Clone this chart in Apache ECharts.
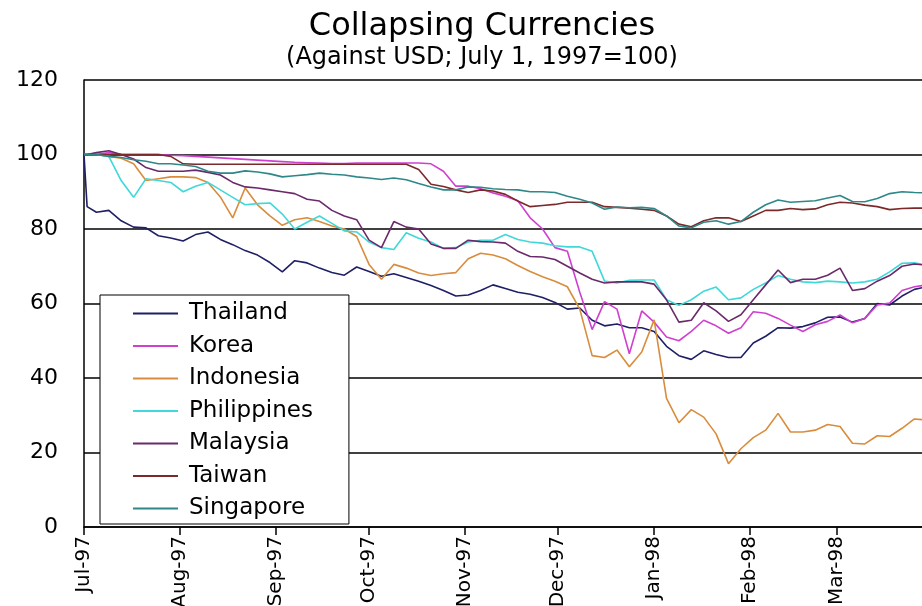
<!DOCTYPE html>
<html>
<head>
<meta charset="utf-8">
<script src="https://cdn.jsdelivr.net/npm/echarts@6/dist/echarts.min.js"></script>
<style>html,body{margin:0;padding:0;background:#fff;}#c{width:922px;height:606px;}</style>
</head>
<body>
<div id="c"></div>
<script>
const titleText = 'Collapsing Currencies';
const subtitleText = '(Against USD; July 1, 1997=100)';
const seriesNames = ['Thailand','Korea','Indonesia','Philippines','Malaysia','Taiwan','Singapore'];
const yTicks = [0,20,40,60,80,100,120];
const monthNames = ['Jan','Feb','Mar','Apr','May','Jun','Jul','Aug','Sep','Oct','Nov','Dec'];

const dates = ['1997-07-01','1997-07-02','1997-07-05','1997-07-09','1997-07-13','1997-07-17','1997-07-21','1997-07-25','1997-07-29',
'1997-08-02','1997-08-06','1997-08-10','1997-08-14','1997-08-18','1997-08-22','1997-08-26','1997-08-30',
'1997-09-03','1997-09-07','1997-09-11','1997-09-15','1997-09-19','1997-09-23','1997-09-27',
'1997-10-01','1997-10-05','1997-10-09','1997-10-13','1997-10-17','1997-10-21','1997-10-25','1997-10-29',
'1997-11-02','1997-11-06','1997-11-10','1997-11-14','1997-11-18','1997-11-22','1997-11-26','1997-11-30',
'1997-12-04','1997-12-08','1997-12-12','1997-12-16','1997-12-20','1997-12-24','1997-12-28',
'1998-01-01','1998-01-05','1998-01-09','1998-01-13','1998-01-17','1998-01-21','1998-01-25','1998-01-29',
'1998-02-02','1998-02-06','1998-02-10','1998-02-14','1998-02-18','1998-02-22','1998-02-26',
'1998-03-02','1998-03-06','1998-03-10','1998-03-14','1998-03-18','1998-03-22','1998-03-26','1998-03-30'];

const thailand = [100,86,84.5,85,82.2,80.5,80.3,78.2,77.6,
76.8,78.5,79.2,77.2,75.8,74.2,73,71,
68.5,71.5,70.9,69.5,68.3,67.6,69.8,
68.6,67.3,68,67,66,64.8,63.5,62,
62.3,63.5,65,64,63,62.5,61.6,60.3,
58.5,58.8,55.5,54,54.5,53.5,53.5,
52.5,48.5,46,45,47.3,46.3,45.5,45.5,
49.4,51.2,53.5,53.4,53.8,54.8,56.3,
56.4,55,56,60,59.6,62,63.8,64.5];

const korea = [100,100,100,100.5,100,100,100,100,99.8,
99.7,99.5,99.3,99.1,98.9,98.7,98.5,98.3,
98.1,97.9,97.8,97.7,97.6,97.6,97.7,
97.7,97.7,97.7,97.7,97.7,97.5,95.5,91.5,
91.5,90.8,89.7,88.8,87.6,83,80,75,
74,63,53,60.5,58.5,46.5,58,
55,51,50,52.5,55.5,54,52,53.5,
57.8,57.4,56,54.2,52.5,54.3,55.2,
56.9,54.8,56,59.6,60.1,63.5,64.5,65];

const indonesia = [100,100,100,99.5,99,97.5,93,93.5,94,
94,93.8,92.5,88.6,83,91,86.5,83.5,
81,82.5,83,82,80.8,80,78,
70.5,66.5,70.5,69.5,68.2,67.5,68,68.3,
72,73.5,73,72,70.2,68.6,67.2,66,
64.5,58.5,46,45.5,47.5,43,47,
55.6,34.5,28,31.5,29.5,25,17,21,
24,26,30.5,25.5,25.5,26,27.5,
27,22.5,22.3,24.5,24.3,26.5,29,28.7];

const philippines = [100,100,100,99.5,93,88.5,93.5,93,92.5,
90,91.5,92.5,90.5,88.5,86.5,86.8,87,
84,80,81.8,83.5,81.5,79.5,79.2,
76.5,75,74.5,79,77.5,76.5,74.8,75,
76.5,77,77,78.5,77.2,76.5,76.2,75.5,
75.2,75.2,74,66,65.5,66.2,66.3,
66.3,61,59.5,61,63.3,64.4,61,61.5,
63.8,65.5,67.5,66.5,65.8,65.6,66,
65.8,65.5,65.8,66.5,68.5,70.8,70.9,70.3];

const malaysia = [100,100,100.5,101,100,98.8,96.5,95.5,95.5,
95.5,95.8,95.2,94.5,92.5,91.3,91,90.5,
90,89.5,88,87.5,85,83.5,82.5,
77,75,82,80.5,80,76,74.8,74.8,
77,76.6,76.5,76.2,74,72.6,72.5,71.8,
70,68.2,66.5,65.5,65.8,65.8,65.8,
65.2,61,55,55.5,60.2,58,55.2,57,
61,65,69,65.6,66.5,66.5,67.6,
69.5,63.5,64,66,67.5,70,70.6,70.3];

const taiwan = [100,100,100,100,100,100,100,100,99.5,
97.5,97.4,97.4,97.4,97.4,97.4,97.4,97.4,
97.4,97.4,97.4,97.4,97.4,97.4,97.4,
97.4,97.4,97.4,97.4,96,92,91.4,90.5,
89.8,90.5,90.2,89.3,87.5,86,86.3,86.6,
87.2,87.2,87.2,86,85.8,85.6,85.3,
85,83.5,81.3,80.6,82.2,83,83,82,
83.5,85,85,85.5,85.2,85.4,86.5,
87.2,87,86.4,86,85.2,85.5,85.6,85.6];

const singapore = [100,100,100,99.5,99.2,98.6,98.2,97.5,97.5,
97.2,96.8,95.5,95,95,95.6,95.3,94.8,
94,94.3,94.6,95,94.7,94.5,94,
93.7,93.3,93.7,93.2,92.2,91.3,90.5,90.5,
91.3,91.2,90.8,90.6,90.5,90,90,89.8,
88.8,88,87,85.3,85.9,85.7,85.8,
85.5,83.5,80.8,80.3,81.8,82.2,81.3,82,
84.5,86.5,87.8,87.2,87.4,87.6,88.3,
89,87.4,87.3,88.2,89.5,90,89.8,89.7];

const values = [thailand, korea, indonesia, philippines, malaysia, taiwan, singapore];
const colors = ['#1f1f66','#d040d0','#d98c3c','#40d8d8','#6a2a6a','#7a2a2a','#2e8888'];

const FONT = 'DejaVu Sans';
const chart = echarts.init(document.getElementById('c'), null, {renderer:'canvas'});

const series = seriesNames.map((name, i) => ({
  name: name,
  type: 'line',
  data: dates.map((d, k) => [d, values[i][k]]),
  showSymbol: false,
  symbol: 'none',
  color: colors[i],
  lineStyle: {width: 1.6, color: colors[i]},
  animation: false
}));

chart.setOption({
  backgroundColor: '#ffffff',
  animation: false,
  graphic: [
    {type: 'text', x: 482, y: 27, style: {text: titleText, font: '32px "DejaVu Sans"', fill: '#000', textAlign: 'center', textVerticalAlign: 'middle'}},
    {type: 'text', x: 482, y: 58, style: {text: subtitleText, font: '24px "DejaVu Sans"', fill: '#000', textAlign: 'center', textVerticalAlign: 'middle'}}
  ],
  legend: {
    orient: 'vertical',
    left: 100, top: 295,
    padding: [7, 36, 4, 33],
    backgroundColor: '#fff',
    borderColor: '#000', borderWidth: 1,
    itemWidth: 45, itemHeight: 2, itemGap: 9.5,
    icon: 'rect',
    data: seriesNames,
    textStyle: {fontFamily: FONT, fontSize: 23, color: '#000', lineHeight: 22, padding: [0,0,0,6]}
  },
  grid: {left: 84, top: 80, width: 849, height: 447, containLabel: false, outerBoundsMode: 'none'},
  xAxis: {
    type: 'time',
    min: '1997-07-01', max: '1998-04-01',
    minInterval: 28*86400000, maxInterval: 31*86400000,
    splitNumber: 9,
    axisLine: {show: true, lineStyle: {color: '#000', width: 1.5}},
    axisTick: {show: true, length: 8, lineStyle: {color: '#000', width: 1.5}},
    splitLine: {show: false},
    axisLabel: {
      rotate: 90, margin: 9, color: '#000', fontFamily: FONT, fontSize: 20,
      hideOverlap: false, showMinLabel: true, showMaxLabel: false,
      formatter: function (v) {
        const d = new Date(v);
        return monthNames[d.getMonth()] + '-' + String(d.getFullYear()).slice(2);
      }
    }
  },
  yAxis: {
    type: 'value', min: yTicks[0], max: yTicks[yTicks.length-1], interval: 20,
    axisLine: {show: true, lineStyle: {color: '#000', width: 1.5}},
    axisTick: {show: false},
    splitLine: {show: true, lineStyle: {color: '#000', width: 1.5}},
    axisLabel: {margin: 26, color: '#000', fontFamily: FONT, fontSize: 22}
  },
  series: series
});
</script>
</body>
</html>
